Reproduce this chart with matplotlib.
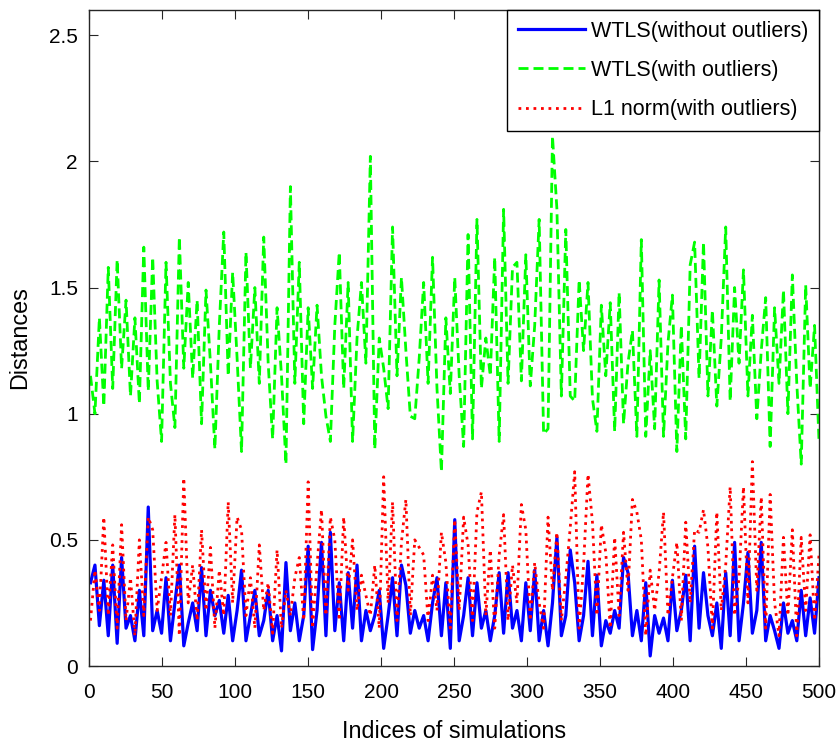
import numpy as np
import matplotlib
matplotlib.use("Agg")
import matplotlib.pyplot as plt

plt.rcParams['font.family'] = ['Liberation Sans', 'DejaVu Sans']

# Values (one sample about every 3 simulations)
wtls_clean = [0.33, 0.40, 0.16, 0.34, 0.12, 0.40, 0.09, 0.43, 0.15, 0.20,
              0.10, 0.30, 0.12, 0.63, 0.14, 0.22, 0.13, 0.35, 0.10, 0.25,
              0.40, 0.08, 0.17, 0.25, 0.14, 0.39, 0.12, 0.30, 0.20, 0.26,
              0.13, 0.28, 0.10, 0.22, 0.38, 0.10, 0.20, 0.30, 0.12, 0.18,
              0.30, 0.10, 0.20, 0.06, 0.41, 0.14, 0.25, 0.10, 0.20, 0.475,
              0.065, 0.22, 0.49, 0.12, 0.53, 0.14, 0.33, 0.10, 0.37, 0.15,
              0.40, 0.10, 0.22, 0.14, 0.20, 0.30, 0.07, 0.20, 0.35, 0.12,
              0.40, 0.32, 0.13, 0.22, 0.15, 0.20, 0.10, 0.25, 0.35, 0.12,
              0.33, 0.07, 0.58, 0.10, 0.20, 0.35, 0.12, 0.33, 0.15, 0.22,
              0.10, 0.20, 0.37, 0.13, 0.37, 0.15, 0.22, 0.10, 0.33, 0.14,
              0.38, 0.10, 0.22, 0.08, 0.25, 0.51, 0.12, 0.20, 0.46, 0.33,
              0.10, 0.20, 0.415, 0.12, 0.36, 0.08, 0.18, 0.13, 0.22, 0.15,
              0.43, 0.37, 0.12, 0.22, 0.10, 0.33, 0.04, 0.20, 0.13, 0.19,
              0.10, 0.34, 0.14, 0.22, 0.36, 0.10, 0.475, 0.15, 0.37, 0.20,
              0.12, 0.25, 0.07, 0.37, 0.12, 0.49, 0.10, 0.25, 0.45, 0.13,
              0.22, 0.49, 0.10, 0.20, 0.14, 0.07, 0.25, 0.13, 0.18, 0.10,
              0.30, 0.12, 0.27, 0.13, 0.35]

wtls_outliers = [1.15, 1.00, 1.38, 1.03, 1.58, 1.10, 1.61, 1.18, 1.45, 1.07,
                 1.38, 1.04, 1.66, 1.09, 1.62, 1.13, 0.89, 1.60, 1.12, 0.945,
                 1.70, 1.18, 1.52, 1.14, 1.45, 0.96, 1.49, 1.20, 0.86, 1.35,
                 1.72, 1.15, 1.56, 1.22, 0.85, 1.64, 1.18, 1.50, 1.12, 1.70,
                 1.20, 0.90, 1.42, 1.15, 0.80, 1.90, 1.12, 1.60, 0.96, 1.42,
                 1.10, 1.43, 1.15, 0.99, 0.89, 1.35, 1.64, 1.10, 1.52, 0.89,
                 1.30, 1.52, 1.20, 2.02, 0.86, 1.30, 1.18, 1.02, 1.74, 1.15,
                 1.54, 1.25, 0.99, 0.98, 1.22, 1.52, 1.12, 1.62, 1.10, 0.77,
                 1.38, 1.08, 1.54, 1.15, 0.87, 1.71, 0.90, 1.77, 1.10, 1.30,
                 1.15, 1.62, 0.89, 1.81, 1.12, 1.58, 1.60, 1.13, 1.63, 1.11,
                 1.35, 1.77, 0.92, 0.94, 2.10, 1.81, 1.07, 1.73, 1.07, 1.05,
                 1.53, 1.25, 1.52, 1.06, 0.93, 1.43, 1.15, 1.44, 0.93, 1.48,
                 0.96, 1.20, 1.33, 0.91, 1.69, 0.91, 1.25, 0.94, 1.53, 0.91,
                 1.28, 1.47, 0.85, 1.35, 0.90, 1.59, 1.68, 1.14, 1.68, 1.07,
                 1.41, 1.03, 1.30, 1.74, 1.05, 1.50, 1.20, 1.57, 1.07, 1.39,
                 0.98, 1.25, 1.46, 0.87, 1.42, 1.12, 1.49, 1.00, 1.55, 1.12,
                 0.80, 1.51, 1.10, 1.35, 0.89]

l1_outliers = [0.18, 0.38, 0.22, 0.59, 0.20, 0.48, 0.15, 0.56, 0.18, 0.35,
               0.12, 0.50, 0.20, 0.59, 0.54, 0.22, 0.35, 0.49, 0.20, 0.60,
               0.12, 0.745, 0.25, 0.40, 0.18, 0.54, 0.22, 0.47, 0.15, 0.38,
               0.20, 0.65, 0.25, 0.59, 0.54, 0.20, 0.35, 0.15, 0.48, 0.22,
               0.33, 0.13, 0.46, 0.15, 0.30, 0.20, 0.35, 0.43, 0.18, 0.73,
               0.15, 0.40, 0.62, 0.20, 0.59, 0.50, 0.18, 0.59, 0.30, 0.50,
               0.22, 0.36, 0.28, 0.20, 0.40, 0.15, 0.75, 0.25, 0.65, 0.18,
               0.49, 0.66, 0.20, 0.50, 0.47, 0.44, 0.18, 0.36, 0.22, 0.53,
               0.41, 0.15, 0.58, 0.22, 0.59, 0.48, 0.18, 0.61, 0.69, 0.20,
               0.46, 0.15, 0.44, 0.60, 0.18, 0.40, 0.25, 0.64, 0.54, 0.18,
               0.41, 0.25, 0.15, 0.59, 0.30, 0.53, 0.18, 0.35, 0.55, 0.77,
               0.15, 0.40, 0.76, 0.57, 0.20, 0.56, 0.45, 0.15, 0.51, 0.20,
               0.53, 0.30, 0.66, 0.61, 0.50, 0.12, 0.38, 0.22, 0.37, 0.61,
               0.20, 0.35, 0.49, 0.18, 0.57, 0.25, 0.54, 0.53, 0.62, 0.47,
               0.15, 0.61, 0.22, 0.40, 0.71, 0.20, 0.35, 0.71, 0.25, 0.81,
               0.30, 0.67, 0.15, 0.68, 0.25, 0.12, 0.51, 0.20, 0.54, 0.12,
               0.51, 0.22, 0.52, 0.18, 0.44]

labels = ['WTLS(without outliers)', 'WTLS(with outliers)', 'L1 norm(with outliers)']
x_ticks = [0, 50, 100, 150, 200, 250, 300, 350, 400, 450, 500]
y_ticks = [0, 0.5, 1, 1.5, 2, 2.5]
y_tick_labels = ['0', '0.5', '1', '1.5', '2', '2.5']

n = len(wtls_clean)
idx = np.linspace(1, 500, n)

fig = plt.figure(figsize=(8.4, 7.43), dpi=100)
ax = fig.add_axes([0.106, 0.1036, 0.869, 0.883])

ax.plot(idx, wtls_clean, color=(0, 0, 1), lw=2.3, label=labels[0])
ax.plot(idx, wtls_outliers, color=(0, 1, 0), lw=2.0, dashes=(3.6, 1.8), label=labels[1])
ax.plot(idx, l1_outliers, color=(1, 0, 0), lw=2.0, dashes=(1.0, 1.7), label=labels[2])

ax.set_xlim(0, 500)
ax.set_ylim(0, 2.6)
ax.set_xticks(x_ticks)
ax.set_yticks(y_ticks)
ax.set_yticklabels(y_tick_labels)
ax.tick_params(direction='in', length=6.5, width=0.8, top=True, right=True,
               labelsize=15, colors='#262626', labelcolor='black')
ax.tick_params(axis='x', pad=12)
ax.tick_params(axis='y', pad=8)
for s in ax.spines.values():
    s.set_linewidth(1.0)
    s.set_color('#262626')

ax.set_xlabel('Indices of simulations', fontsize=16.8, labelpad=13)
ax.set_ylabel('Distances', fontsize=16.8, labelpad=13)

leg = ax.legend(loc='upper right', fontsize=15.5, frameon=True, fancybox=False,
                edgecolor='black', framealpha=1, borderaxespad=0.0,
                handlelength=3.1, handletextpad=0.28, labelspacing=0.85,
                borderpad=0.5)
leg.get_frame().set_linewidth(1.0)

fig.savefig('out.png', dpi=100)
